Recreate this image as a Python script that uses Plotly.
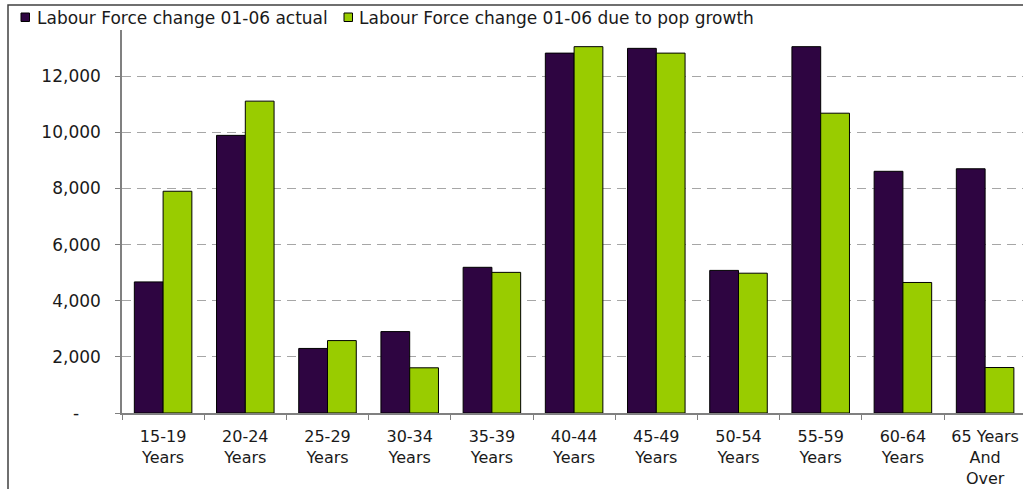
import plotly.graph_objects as go

# Age bands and labour force change (2001-2006)
age_groups = [
    "15-19<br>Years", "20-24<br>Years", "25-29<br>Years", "30-34<br>Years",
    "35-39<br>Years", "40-44<br>Years", "45-49<br>Years", "50-54<br>Years",
    "55-59<br>Years", "60-64<br>Years", "65 Years<br>And<br>Over",
]
actual_change = [4670, 9890, 2300, 2900, 5190, 12820, 12990, 5080, 13050, 8610, 8700]
pop_growth_change = [7900, 11110, 2580, 1610, 5010, 13050, 12820, 4980, 10680, 4650, 1620]

series_names = ["Labour Force change 01-06 actual", "Labour Force change 01-06 due to pop growth"]
series_colors = ["#2E0541", "#99CC00"]

y_ticks = [0, 2000, 4000, 6000, 8000, 10000, 12000, 14000]
y_tick_text = ["-\u2007\u2007", "2,000", "4,000", "6,000", "8,000", "10,000", "12,000", ""]

FONT = "DejaVu Sans, Verdana, sans-serif"
TEXT = "#1a1a1a"
FS = 17

# plot area in pixels: x 122..1023, y 20..413
PX0, PW = 122.0, 901.0
PY0, PH = 413.0, 393.0


def px(x):
    return (x - PX0) / PW


def py(y):
    return (PY0 - y) / PH


fig = go.Figure()
for name, vals, col in zip(series_names, [actual_change, pop_growth_change], series_colors):
    fig.add_trace(go.Bar(
        x=age_groups, y=vals, name=name,
        marker=dict(color=col, line=dict(color="#000000", width=1)),
    ))

# Legend strip across the top of the chart frame
shapes = [
    dict(type="rect", xref="paper", yref="paper",
         x0=px(9), x1=px(758), y0=py(30), y1=py(6),
         line=dict(width=0), fillcolor="white", layer="above"),
    # chart frame
    dict(type="rect", xref="paper", yref="paper",
         x0=px(8), x1=1.2, y0=-0.5, y1=py(5),
         line=dict(color="#404040", width=1.5), fillcolor="rgba(0,0,0,0)",
         layer="above"),
]
annotations = []
legend_x = [(21, 36), (344, 358)]
for (sq_x, tx), name, col in zip(legend_x, series_names, series_colors):
    shapes.append(dict(type="rect", xref="paper", yref="paper",
                       x0=px(sq_x), x1=px(sq_x + 8.5), y0=py(21.5), y1=py(13),
                       line=dict(color="#000000", width=1), fillcolor=col,
                       layer="above"))
    annotations.append(dict(xref="paper", yref="paper", x=px(tx), y=py(18),
                            xanchor="left", yanchor="middle", showarrow=False,
                            borderpad=0, text=name,
                            font=dict(family=FONT, size=FS, color=TEXT)))

fig.update_layout(
    width=1023, height=489,
    margin=dict(l=122, r=0, t=20, b=76, autoexpand=False),
    paper_bgcolor="white", plot_bgcolor="white",
    font=dict(family=FONT, size=FS, color=TEXT),
    barmode="group", bargap=0.3, bargroupgap=0,
    showlegend=False,
    xaxis=dict(
        range=[-0.5, 10.461], showgrid=False, automargin=False,
        showline=True, linecolor="#808080", linewidth=1.5,
        ticks="outside", tickson="boundaries", ticklen=5, tickcolor="#808080",
        ticklabelstandoff=8,
        tickfont=dict(family=FONT, size=16, color=TEXT),
    ),
    yaxis=dict(
        range=[0, 14000], tickvals=y_ticks, ticktext=y_tick_text,
        automargin=False,
        showgrid=True, gridcolor="#a6a6a6", gridwidth=1, griddash="9px,6px",
        showline=True, linecolor="#808080", linewidth=1.5,
        ticks="outside", ticklen=5, tickcolor="#808080",
        ticklabelstandoff=11,
        zeroline=False,
        tickfont=dict(family=FONT, size=FS, color=TEXT),
    ),
    shapes=shapes,
    annotations=annotations,
)

fig.write_html("out.html")
